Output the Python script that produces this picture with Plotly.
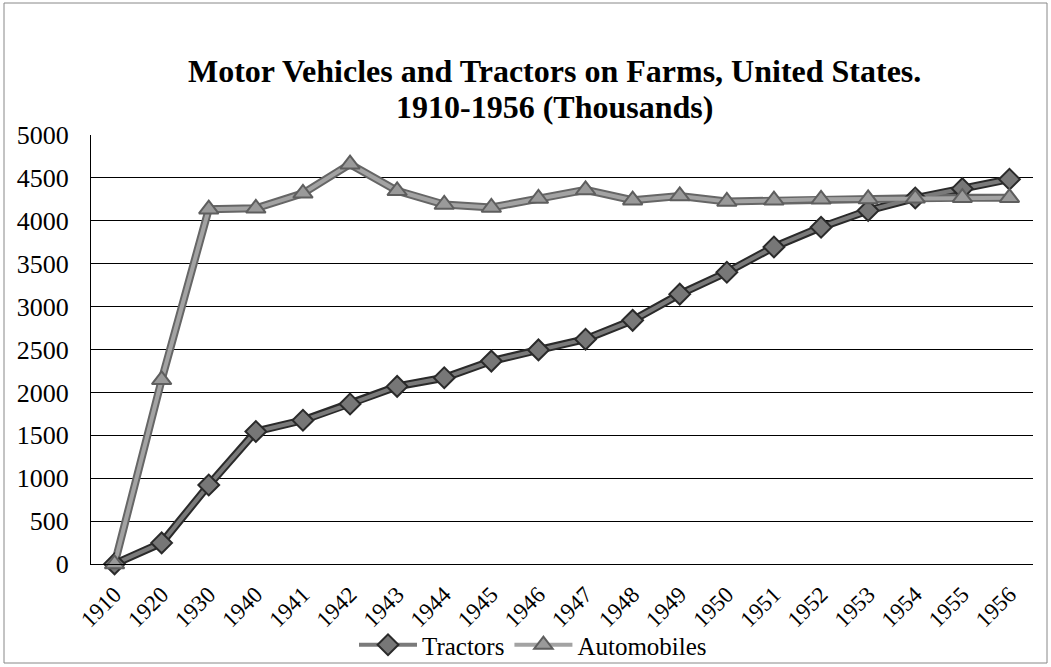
import plotly.graph_objects as go

years = ["1910", "1920", "1930", "1940", "1941", "1942", "1943", "1944", "1945", "1946",
         "1947", "1948", "1949", "1950", "1951", "1952", "1953", "1954", "1955", "1956"]
tractors = [1, 246, 920, 1545, 1675, 1865, 2070, 2170, 2365, 2495,
            2620, 2840, 3145, 3400, 3695, 3925, 4120, 4265, 4375, 4485]
automobiles = [0, 2146, 4135, 4145, 4320, 4660, 4350, 4190, 4155, 4260,
               4360, 4240, 4290, 4225, 4240, 4250, 4255, 4262, 4270, 4270]
title_lines = ["Motor Vehicles and Tractors on Farms, United States.", "1910-1956 (Thousands)"]

FONT = "Liberation Serif, Times New Roman, Times, serif"

fig = go.Figure()
fig.add_trace(go.Scatter(x=years, y=tractors, mode="lines", line=dict(color="#2a2a2a", width=8),
                         showlegend=False, hoverinfo="skip", cliponaxis=False))
fig.add_trace(go.Scatter(x=years, y=automobiles, mode="lines", line=dict(color="#666666", width=8),
                         showlegend=False, hoverinfo="skip", cliponaxis=False))
fig.add_trace(go.Scatter(x=years, y=tractors, mode="lines+markers", name="Tractors",
                         line=dict(color="#7a7a7a", width=4), cliponaxis=False,
                         marker=dict(symbol="diamond", size=16, color="#777777",
                                     line=dict(color="#2a2a2a", width=2))))
fig.add_trace(go.Scatter(x=years, y=automobiles, mode="lines+markers", name="Automobiles",
                         line=dict(color="#a3a3a3", width=4), cliponaxis=False,
                         marker=dict(symbol="triangle-up", size=17, color="#9a9a9a",
                                     line=dict(color="#5e5e5e", width=2))))

L, R, T, B = 91, 18, 135, 103
W, H = 1051, 667
pw, ph = W - L - R, H - T - B

def px(x):
    return (x - L) / pw

def py(y):
    return (H - B - y) / ph

annotations = [
    dict(text="<b>%s</b>" % title_lines[0], xref="paper", yref="paper", x=px(554), y=py(71),
         xanchor="center", yanchor="middle", showarrow=False,
         font=dict(family=FONT, size=32, color="black")),
    dict(text="<b>%s</b>" % title_lines[1], xref="paper", yref="paper", x=px(554), y=py(107),
         xanchor="center", yanchor="middle", showarrow=False,
         font=dict(family=FONT, size=32, color="black")),
]

fig.update_layout(
    width=W, height=H,
    margin=dict(l=L, r=R, t=T, b=B, pad=0, autoexpand=False),
    paper_bgcolor="white", plot_bgcolor="white",
    font=dict(family=FONT, color="black", size=22),
    xaxis=dict(type="category", range=[-0.5, len(years) - 0.5], automargin=False,
               showgrid=False, showline=True, linecolor="black", linewidth=1,
               tickangle=-45, tickfont=dict(family=FONT, size=23), ticks="",
               ticklabelstandoff=7),
    yaxis=dict(range=[0, 5000], dtick=500, showgrid=True, gridcolor="black", gridwidth=1,
               showline=True, linecolor="black", linewidth=1, zeroline=False, automargin=False,
               tickfont=dict(family=FONT, size=26), ticks="", ticklabelstandoff=16),
    legend=dict(orientation="h", x=px(533), xanchor="center", y=py(645), yanchor="middle",
                font=dict(family=FONT, size=25), itemwidth=58, tracegroupgap=0,
                bgcolor="rgba(0,0,0,0)"),
    showlegend=True,
    annotations=annotations,
    shapes=[dict(type="rect", xref="paper", yref="paper",
                 x0=px(4), x1=px(1047), y0=py(663), y1=py(3),
                 line=dict(color="#888888", width=1), fillcolor="rgba(0,0,0,0)")],
)

fig.write_html("out.html", config={"displayModeBar": False},
               post_script="document.body.style.margin='0';document.body.style.overflow='hidden';")
